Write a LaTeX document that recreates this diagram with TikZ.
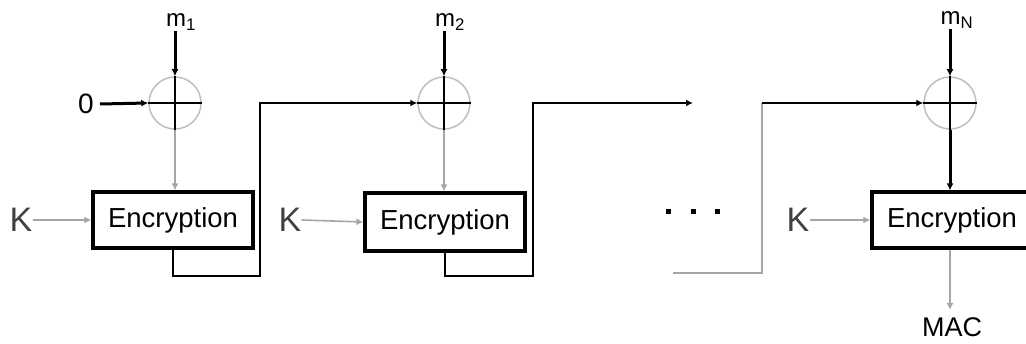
\documentclass[tikz,border=0pt]{standalone}
\usepackage{fontspec}
\setmainfont{Liberation Sans}
\usetikzlibrary{arrows.meta}
\begin{document}
\begin{tikzpicture}[x=1pt,y=-1pt,
  tip/.style={-{Latex[length=7pt,width=7pt]}},
  bline/.style={line width=3pt,black},
  gline/.style={line width=1.6pt,black!35},
  encbox/.style={draw,line width=3.2pt,minimum width=160pt,minimum height=56pt,inner sep=0pt,font=\fontsize{27.5}{29}\selectfont},
  xorc/.style={circle,draw=black!25,line width=1.5pt,minimum size=52pt,inner sep=0pt},
  lbl/.style={inner sep=0pt,font=\fontsize{24}{26}\selectfont},
  klbl/.style={inner sep=0pt,text=black!75,font=\fontsize{34}{36}\selectfont},
  dotsq/.style={fill=black,minimum size=5pt,inner sep=0pt}]
\useasboundingbox (0,0) rectangle (1026,344);
% labels
\node[lbl] (m1) at (181,22) {m\textsubscript{1}};
\node[lbl] (m2) at (450,22) {m\textsubscript{2}};
\node[lbl] (mN) at (957,20) {m\textsubscript{N}};
\node[lbl,font=\fontsize{28}{30}\selectfont] (zero) at (86,104) {0};
\node[klbl] (k1) at (21,220) {K};
\node[klbl] (k2) at (290,220) {K};
\node[klbl] (k3) at (798,220) {K};
\node[lbl,font=\fontsize{27}{29}\selectfont,anchor=base] (mac) at (952,337) {MAC};
% xor circles
\node[xorc] (x1) at (175,103) {};
\node[xorc] (x2) at (444,103) {};
\node[xorc] (x3) at (950,103) {};
% boxes
\node[encbox] (b1) at (173,220) {Encryption};
\node[encbox,minimum height=58pt] (b2) at (445,222) {Encryption};
\node[encbox] (b3) at (952,220) {Encryption};
% crosses
\foreach \x in {x1,x2,x3}{
  \draw[bline,line width=2.6pt] (\x.north) -- (\x.south);
  \draw[bline,line width=2.6pt] (\x.west) -- (\x.east);
}
% message inputs
\draw[bline,tip] (x1.north |- m1.south) -- (x1.north);
\draw[bline,tip] (x2.north |- m2.south) -- (x2.north);
\draw[bline,tip] (x3.north |- mN.south) -- (x3.north);
\draw[bline,tip] (zero.east) ++(6,0) -- (x1.west);
% xor to boxes
\draw[gline,tip] (x1.south) -- (x1.south |- b1.north);
\draw[gline,tip] (x2.south) -- (x2.south |- b2.north);
\draw[bline,tip] (x3.south) -- (x3.south |- b3.north);
% keys
\draw[gline,tip] (k1.east) -- (b1.west);
\draw[gline,tip] (k2.east) -- (b2.west);
\draw[gline,tip] (k3.east) -- (b3.west);
% chain
\coordinate (t1) at (260,276);
\coordinate (t2) at (533,276);
\coordinate (e2) at (693,103);
\coordinate (s3) at (673,273);
\coordinate (t3) at (762,273);
\coordinate (u3) at (762,103);
\draw[bline,line width=2.8pt,tip] (b1.south) |- (t1) |- (x2.west);
\draw[bline,line width=2.8pt,tip] (b2.south) |- (t2) |- (e2);
\draw[gline] (s3) -- (t3) -- (u3);
\draw[bline,line width=2.8pt,tip] (u3) -- (x3.west);
% output
\draw[gline,tip] (x3.south |- b3.south) -- ([yshift=8pt]x3.south |- mac.north);
% dots
\node[dotsq] (d1) at (668,212) {};
\node[dotsq] (d2) at (693,212) {};
\node[dotsq] (d3) at (717,212) {};
\end{tikzpicture}
\end{document}
